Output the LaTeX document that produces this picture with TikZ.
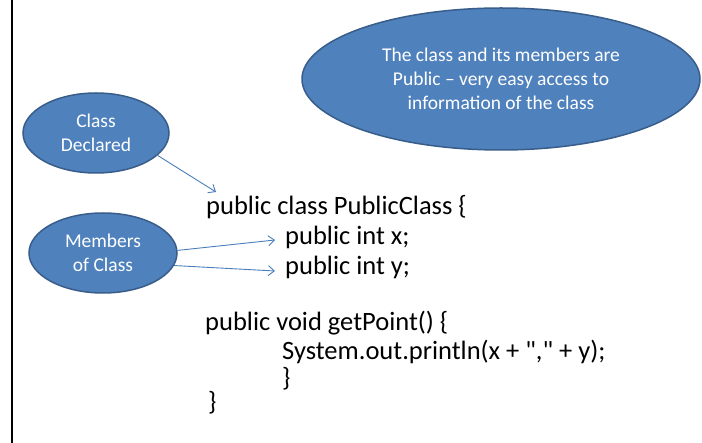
\documentclass[tikz,border=0pt]{standalone}
\usepackage{fontspec}
\setmainfont{Carlito}
\newfontfamily\codefont{Carlito}[Ligatures=TeXOff]
\usetikzlibrary{shapes.geometric,arrows.meta}
\definecolor{bubblefill}{HTML}{4F81BD}
\definecolor{bubbleedge}{HTML}{385D8A}
\definecolor{pointercol}{HTML}{4A7EBB}
\begin{document}
\begin{tikzpicture}[x=1pt,y=-1pt,
  bubble/.style={ellipse, draw=bubbleedge, line width=1.5pt, fill=bubblefill,
    text=white, inner sep=0pt, align=center,
    font=\fontsize{19.5}{24}\selectfont},
  code/.style={anchor=base west, inner sep=0pt,
    font=\codefont\fontsize{26.5}{30}\selectfont},
  pointer/.style={draw=pointercol, line width=0.9pt,
    -{Straight Barb[length=6pt,width=10pt]}}]
\useasboundingbox (0,0) rectangle (702,443);

% left frame line
\draw[line width=2pt] (11.5,0) -- (11.5,443);

% callout bubbles
\node[bubble, minimum width=398pt, minimum height=142pt] (pub) at (501,79)
  {The class and its members are\\Public – very easy access to\\information of the class};
\node[bubble, minimum width=146pt, minimum height=80pt] (cd) at (96,133)
  {Class\\Declared};
\node[bubble, minimum width=148pt, minimum height=80pt] (mc) at (103,253)
  {Members\\of Class};

% source code
\node[code] (l1) at (206,215) {public class PublicClass \{};
\node[code] (l2) at (285,245) {public int x;};
\node[code] (l3) at (285,275) {public int y;};
\node[code] (l5) at (205,331) {public void getPoint() \{};
\node[code] (l6) at (282,360) {System.out.println(x + "," + y);};
\node[code] (l7) at (282,387) {\}};
\node[code] (l8) at (208,411) {\}};

% pointers
\coordinate (cdtip) at (216,192);
\coordinate (xtip) at (275,240);
\coordinate (ytip) at (275,271);
\draw[pointer] (cd.-20) -- (cdtip);
\draw[pointer] (mc.2) -- (xtip);
\draw[pointer] (mc.-10) -- (ytip);
\end{tikzpicture}
\end{document}
